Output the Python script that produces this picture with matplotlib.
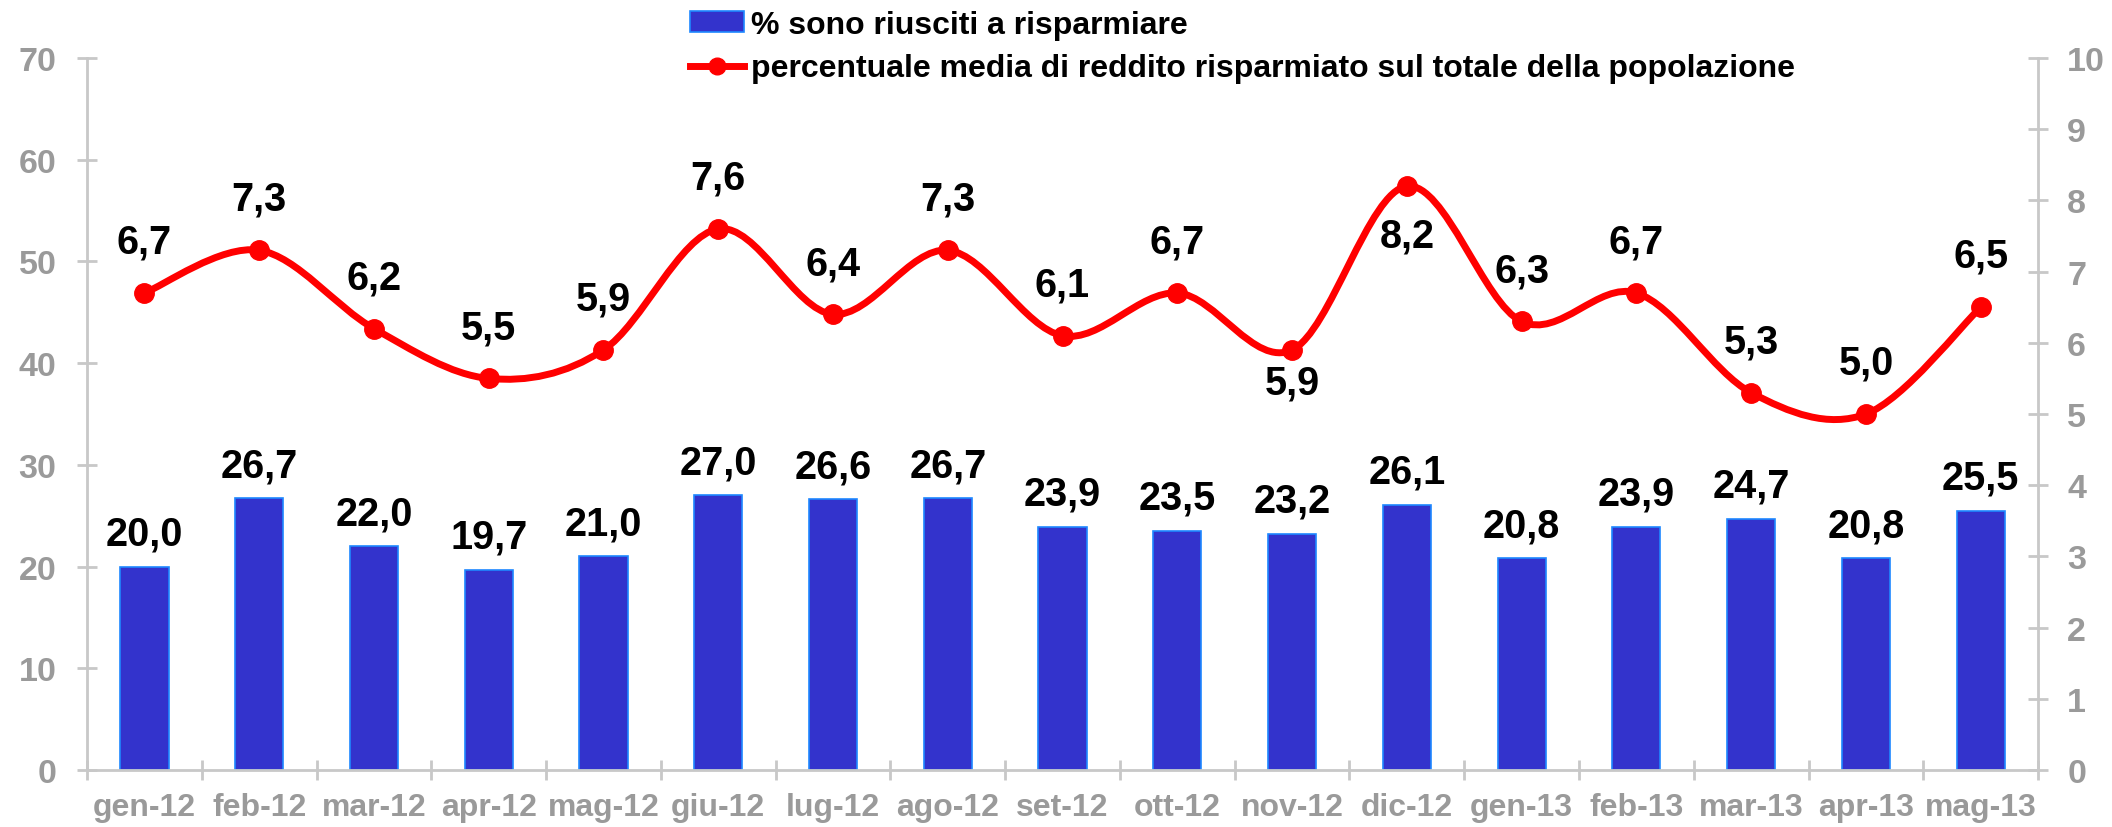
#!/usr/bin/env python3
"""
Risparmio mensile: quota di chi e' riuscito a risparmiare (barre)
e percentuale media di reddito risparmiato (linea smussata, asse destro)
"""

import numpy as np
import matplotlib.pyplot as plt
from matplotlib.path import Path
from matplotlib.patches import PathPatch, Patch
from matplotlib.lines import Line2D

# Dati
months = ['gen-12', 'feb-12', 'mar-12', 'apr-12', 'mag-12', 'giu-12', 'lug-12',
          'ago-12', 'set-12', 'ott-12', 'nov-12', 'dic-12', 'gen-13', 'feb-13',
          'mar-13', 'apr-13', 'mag-13']
saved_share = [20.0, 26.7, 22.0, 19.7, 21.0, 27.0, 26.6, 26.7, 23.9, 23.5,
               23.2, 26.1, 20.8, 23.9, 24.7, 20.8, 25.5]
saved_income = [6.7, 7.3, 6.2, 5.5, 5.9, 7.6, 6.4, 7.3, 6.1, 6.7,
                5.9, 8.2, 6.3, 6.7, 5.3, 5.0, 6.5]
# etichette della linea sotto il punto per questi mesi
labels_below = ['nov-12', 'dic-12']

bar_label = '% sono riusciti a risparmiare'
line_label = 'percentuale media di reddito risparmiato sul totale della popolazione'

BAR_COLOR = '#3333CC'
BAR_EDGE = '#1E88FF'
LINE_COLOR = '#FF0000'
AXIS_GRAY = '#C8C8C8'
TEXT_GRAY = '#9A9A9A'


def fmt(v):
    # virgola decimale all'italiana
    return f'{v:.1f}'.replace('.', ',')


def smooth_path(xs, ys):
    """
    Curva di Bezier tipo Catmull-Rom (come la linea smussata di Excel)
    """
    pts = np.column_stack([xs, ys]).astype(float)
    ext = np.vstack([pts[0], pts, pts[-1]])
    verts = [tuple(pts[0])]
    codes = [Path.MOVETO]
    for i in range(len(pts) - 1):
        p0, p1, p2, p3 = ext[i], ext[i + 1], ext[i + 2], ext[i + 3]
        c1 = p1 + (p2 - p0) / 6.0
        c2 = p2 - (p3 - p1) / 6.0
        verts += [tuple(c1), tuple(c2), tuple(p2)]
        codes += [Path.CURVE4] * 3
    return Path(verts, codes)


plt.rcParams['font.family'] = ['Liberation Sans', 'DejaVu Sans']
plt.rcParams['font.weight'] = 'bold'

fig = plt.figure(figsize=(21.12, 8.28), dpi=100)
ax = fig.add_axes([0.0412, 0.0688, 0.9238, 0.8599])
ax2 = ax.twinx()

x = np.arange(len(months))

# Barre
ax.bar(x, saved_share, width=0.42, color=BAR_COLOR, edgecolor=BAR_EDGE,
       linewidth=1.2, zorder=2)
for xi, v in zip(x, saved_share):
    ax.annotate(fmt(v), (xi, v), xytext=(0, 16), textcoords='offset points',
                ha='center', va='baseline', fontsize=28.5, fontweight='bold',
                color='black')

# Linea smussata
ax2.add_patch(PathPatch(smooth_path(x, saved_income), facecolor='none',
                        edgecolor=LINE_COLOR, linewidth=5, zorder=3,
                        capstyle='round', joinstyle='round'))
ax2.plot(x, saved_income, 'o', color=LINE_COLOR, markersize=14, zorder=4)
for m, xi, v in zip(months, x, saved_income):
    if m in labels_below:
        off = (0, -22) if m == 'dic-12' else (0, -10)
        va = 'top'
    else:
        off = (0, 29)
        va = 'baseline'
    ax2.annotate(fmt(v), (xi, v), xytext=off, textcoords='offset points',
                 ha='center', va=va, fontsize=28.5, fontweight='bold',
                 color='black', zorder=5)

# Assi
ax.set_xlim(-0.5, len(months) - 0.5)
ax.set_ylim(0, 70)
ax2.set_ylim(0, 10)
ax.set_yticks(np.arange(0, 71, 10))
ax2.set_yticks(np.arange(0, 11, 1))

ax.set_xticks(np.arange(-0.5, len(months)), labels=[])
ax.set_xticks(x, labels=months, minor=True)
ax.tick_params(axis='x', which='major', direction='inout', length=14,
               width=2, color=AXIS_GRAY)
ax.tick_params(axis='x', which='minor', length=0, pad=16, labelsize=23,
               labelcolor=TEXT_GRAY)
ax.tick_params(axis='y', direction='inout', length=14, width=2,
               color=AXIS_GRAY, labelsize=24.5, labelcolor=TEXT_GRAY, pad=15)
ax2.tick_params(axis='y', direction='inout', length=14, width=2,
                color=AXIS_GRAY, labelsize=24.5, labelcolor=TEXT_GRAY, pad=14)

for name, sp in ax.spines.items():
    sp.set_visible(name in ('left', 'bottom'))
    sp.set_color(AXIS_GRAY)
    sp.set_linewidth(2)
for name, sp in ax2.spines.items():
    sp.set_visible(name == 'right')
    sp.set_color(AXIS_GRAY)
    sp.set_linewidth(2)

# Legenda
handles = [
    Patch(facecolor=BAR_COLOR, edgecolor=BAR_EDGE, linewidth=1.2),
    Line2D([0], [0], color=LINE_COLOR, linewidth=5, marker='o', markersize=12),
]
fig.legend(handles, [bar_label, line_label], loc='upper left',
           bbox_to_anchor=(690 / 2112, 1 - 11 / 828), frameon=False,
           fontsize=23, handlelength=1.69, handleheight=0.63,
           handletextpad=0.22, labelspacing=0.42, borderpad=0,
           borderaxespad=0)

fig.savefig('out.png', dpi=100)
